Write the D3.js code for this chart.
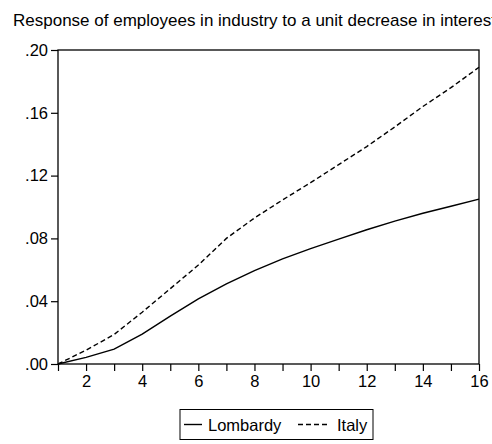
<!DOCTYPE html>
<html>
<head>
<meta charset="utf-8">
<script src="https://cdn.jsdelivr.net/npm/d3@7"></script>
<style>
  body { margin: 0; background: #fff; }
  svg { display: block; font-family: "Liberation Sans", Arial, sans-serif; }
</style>
</head>
<body>
<svg id="chart" width="492" height="444"></svg>
<script>
// horizon (periods) and the two impulse responses
var periods = [1, 2, 3, 4, 5, 6, 7, 8, 9, 10, 11, 12, 13, 14, 15, 16]
var lombardy = [0.000, 0.0042, 0.0095, 0.019, 0.0305, 0.0415, 0.051, 0.0595, 0.067, 0.0735, 0.0795, 0.0855, 0.091, 0.096, 0.1005, 0.105]
var italy = [0.000, 0.0088, 0.0188, 0.033, 0.048, 0.063, 0.080, 0.093, 0.1045, 0.1155, 0.127, 0.1385, 0.151, 0.164, 0.176, 0.189]
var yTicks = [0, 0.04, 0.08, 0.12, 0.16, 0.20]
var xLabels = [2, 4, 6, 8, 10, 12, 14, 16]
var seriesNames = ["Lombardy", "Italy"]
var title = "Response of employees in industry to a unit decrease in interest"

var svg = d3.select("#chart")
var pLeft = 58, pRight = 479, pTop = 50, pBottom = 364

var x = d3.scaleLinear().domain([1, 16]).range([pLeft, pRight])
var y = d3.scaleLinear().domain([0, 0.20]).range([pBottom, pTop])

svg.append("text")
    .attr("x", 13)
    .attr("y", 26)
    .style("font-size", "17px")
    .text(title)

// frame
svg.append("rect")
    .attr("x", pLeft).attr("y", pTop)
    .attr("width", pRight - pLeft).attr("height", pBottom - pTop)
    .attr("fill", "none").attr("stroke", "#000").attr("stroke-width", 1.3)

var yAxis = svg.append("g")
    .attr("transform", "translate(" + pLeft + ",0)")
    .call(d3.axisLeft(y).tickValues(yTicks).tickSize(7).tickPadding(3)
        .tickFormat(function(d){ return d3.format(".2f")(d).replace(/^0/, "") }))
yAxis.select(".domain").remove()

var xAxis = svg.append("g")
    .attr("transform", "translate(0," + pBottom + ")")
    .call(d3.axisBottom(x).tickValues(periods).tickSize(7).tickPadding(4)
        .tickFormat(function(d){ return xLabels.indexOf(d) >= 0 ? d : "" }))
xAxis.select(".domain").remove()

svg.selectAll(".tick line").attr("stroke", "#000").attr("stroke-width", 1.2)
svg.selectAll(".tick text").attr("fill", "#000").style("font-size", "16.5px")

var line = d3.line()
    .x(function(d, i){ return x(periods[i]) })
    .y(function(d){ return y(d) })

svg.append("path")
    .datum(italy)
    .attr("fill", "none").attr("stroke", "#000").attr("stroke-width", 1.4)
    .attr("stroke-dasharray", "5,3")
    .attr("d", line)

svg.append("path")
    .datum(lombardy)
    .attr("fill", "none").attr("stroke", "#000").attr("stroke-width", 1.4)
    .attr("d", line)

// legend
var lg = svg.append("g")
lg.append("rect")
    .attr("x", 180).attr("y", 409.5).attr("width", 193).attr("height", 30)
    .attr("fill", "#fff").attr("stroke", "#000").attr("stroke-width", 1)

var items = [
    {name: seriesNames[0], x1: 184, x2: 202, tx: 208, dash: null},
    {name: seriesNames[1], x1: 298, x2: 327, tx: 337, dash: "5,3"}
]
items.forEach(function(it){
    lg.append("line")
        .attr("x1", it.x1).attr("x2", it.x2).attr("y1", 424.5).attr("y2", 424.5)
        .attr("stroke", "#000").attr("stroke-width", 1.4)
        .attr("stroke-dasharray", it.dash)
    lg.append("text")
        .attr("x", it.tx).attr("y", 431)
        .style("font-size", "16.5px")
        .text(it.name)
})
</script>
</body>
</html>
